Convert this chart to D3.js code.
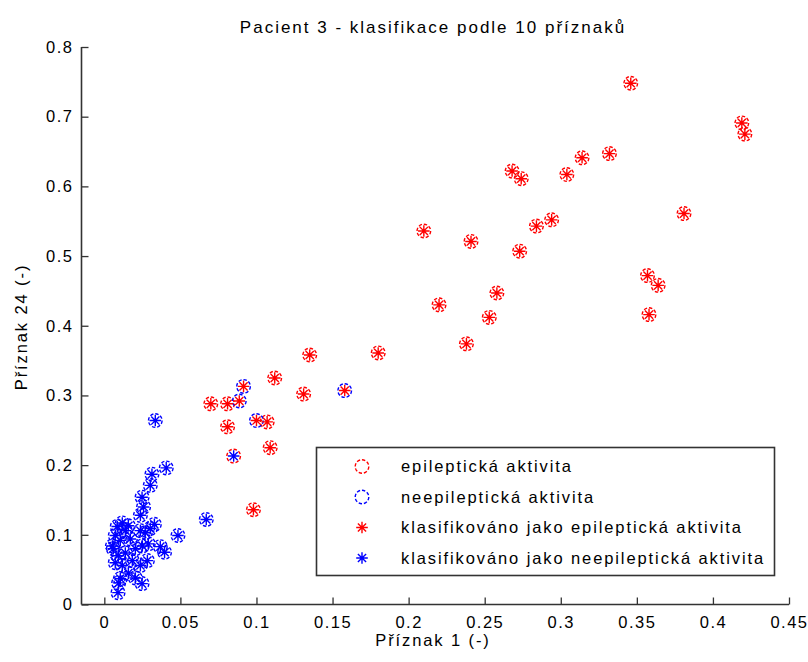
<!DOCTYPE html>
<html lang="cs">
<head>
<meta charset="UTF-8">
<title>Pacient 3 - klasifikace</title>
<style>
  body { margin: 0; background: #fff; }
  text { font-family: "Liberation Sans", Arial, sans-serif; font-size: 16.5px; letter-spacing: 1.9px; fill: #000; }
  .tick text { letter-spacing: 1.5px; }
  .title { font-size: 17px; letter-spacing: 2px; }
</style>
</head>
<body>
<svg id="chart" width="808" height="662"></svg>
<script src="https://d3js.org/d3.v7.min.js"></script>
<script>

// epileptic activity, classified as epileptic
var epiOkX = [0.135, 0.112, 0.131, 0.070, 0.081, 0.107, 0.081, 0.109, 0.098, 0.180,
              0.210, 0.241, 0.273, 0.284, 0.294, 0.258, 0.220, 0.253, 0.238, 0.346,
              0.419, 0.421, 0.332, 0.314, 0.304, 0.381, 0.357, 0.364, 0.358, 0.268, 0.274];
var epiOkY = [0.358, 0.325, 0.302, 0.288, 0.288, 0.262, 0.255, 0.225, 0.136, 0.361,
              0.536, 0.521, 0.507, 0.543, 0.552, 0.447, 0.430, 0.412, 0.374, 0.748,
              0.691, 0.675, 0.647, 0.641, 0.617, 0.561, 0.472, 0.458, 0.416, 0.622, 0.611];

// epileptic activity, classified as non-epileptic
var epiErrX = [0.085];
var epiErrY = [0.213];

// non-epileptic activity, classified as epileptic
var neErrX = [0.0915, 0.158, 0.0887, 0.100];
var neErrY = [0.313, 0.307, 0.292, 0.264];

// non-epileptic activity, classified as non-epileptic
var neOkX = [0.067, 0.0335, 0.0407, 0.0313, 0.0302, 0.0248, 0.0258, 0.0237, 0.0329, 0.0484,
             0.0368, 0.0396, 0.0248, 0.009, 0.0094,
             0.0085, 0.0118, 0.0158, 0.0072, 0.0105, 0.0171, 0.0237, 0.0269, 0.0059, 0.0092,
             0.0138, 0.0204, 0.025, 0.0289, 0.0072, 0.0118, 0.0184, 0.0237, 0.0283, 0.0158,
             0.0204, 0.0105, 0.0053, 0.0138, 0.0302];
var neOkY = [0.122, 0.264, 0.196, 0.187, 0.171, 0.154, 0.140, 0.128, 0.115, 0.099,
             0.083, 0.075, 0.030, 0.017, 0.031,
             0.112, 0.117, 0.113, 0.099, 0.092, 0.094, 0.106, 0.103, 0.080, 0.070,
             0.074, 0.080, 0.084, 0.087, 0.060, 0.056, 0.063, 0.056, 0.063, 0.045,
             0.038, 0.037, 0.084, 0.106, 0.109];

var xTicks = [0, 0.05, 0.1, 0.15, 0.2, 0.25, 0.3, 0.35, 0.4, 0.45];
var yTicks = [0, 0.1, 0.2, 0.3, 0.4, 0.5, 0.6, 0.7, 0.8];

var legendLabels = ["epileptická aktivita", "neepileptická aktivita",
                    "klasifikováno jako epileptická aktivita", "klasifikováno jako neepileptická aktivita"];

var RED = "#ff0000", BLUE = "#0000ff";

var svg = d3.select("#chart");

var x = d3.scaleLinear().domain([-0.015, 0.45]).range([81.5, 789]);
var y = d3.scaleLinear().domain([0, 0.8]).range([604.5, 47]);

function pts(xs, ys) {
  return xs.map(function (v, i) { return [v, ys[i]]; });
}

function drawCircles(g, data, colour) {
  g.selectAll(null).data(data).enter().append("circle")
    .attr("cx", function (d) { return x(d[0]); })
    .attr("cy", function (d) { return y(d[1]); })
    .attr("r", 6.8)
    .attr("fill", "none")
    .attr("stroke", colour)
    .attr("stroke-width", 1.4)
    .attr("stroke-dasharray", "3.4,1.9");
}

var starPath = (function () {
  var r = 5.8, c = r * Math.SQRT1_2;
  return "M" + (-r) + ",0L" + r + ",0M0," + (-r) + "L0," + r +
         "M" + (-c) + "," + (-c) + "L" + c + "," + c +
         "M" + (-c) + "," + c + "L" + c + "," + (-c);
})();

function drawStars(g, data, colour) {
  g.selectAll(null).data(data).enter().append("path")
    .attr("transform", function (d) { return "translate(" + x(d[0]) + "," + y(d[1]) + ")"; })
    .attr("d", starPath)
    .attr("fill", "none")
    .attr("stroke", colour)
    .attr("stroke-width", 1.4);
}

var marks = svg.append("g");
drawCircles(marks, pts(epiOkX, epiOkY).concat(pts(epiErrX, epiErrY)), RED);
drawCircles(marks, pts(neOkX, neOkY).concat(pts(neErrX, neErrY)), BLUE);
drawStars(marks, pts(epiOkX, epiOkY).concat(pts(neErrX, neErrY)), RED);
drawStars(marks, pts(neOkX, neOkY).concat(pts(epiErrX, epiErrY)), BLUE);

// axes (MATLAB style: ticks inward, no box)
var xAxis = svg.append("g").attr("transform", "translate(0,604.5)")
  .call(d3.axisBottom(x).tickValues(xTicks).tickSizeInner(-7).tickSizeOuter(0)
    .tickFormat(function (d) { return String(+d.toFixed(2)); }));
xAxis.select(".domain").attr("stroke", "#333").attr("stroke-width", 1.6)
  .attr("d", "M" + x.range()[0] + ",0H" + x.range()[1]);
xAxis.selectAll(".tick line").attr("stroke", "#333").attr("stroke-width", 1.3);
xAxis.selectAll(".tick text").attr("y", 12).attr("dy", "0.71em");

var yAxis = svg.append("g").attr("transform", "translate(81.5,0)")
  .call(d3.axisLeft(y).tickValues(yTicks).tickSizeInner(-7).tickSizeOuter(0)
    .tickFormat(function (d) { return String(+d.toFixed(1)); }));
yAxis.select(".domain").attr("stroke", "#333").attr("stroke-width", 1.6)
  .attr("d", "M0," + y.range()[0] + "V" + y.range()[1]);
yAxis.selectAll(".tick line").attr("stroke", "#333").attr("stroke-width", 1.3);
yAxis.selectAll(".tick text").attr("x", -8);
xAxis.attr("font-family", null).attr("font-size", null);
yAxis.attr("font-family", null).attr("font-size", null);

// titles
svg.append("text").attr("class", "title").attr("x", 433).attr("y", 33).attr("text-anchor", "middle")
  .text("Pacient 3 - klasifikace podle 10 příznaků");
svg.append("text").attr("x", 433).attr("y", 646).attr("text-anchor", "middle")
  .text("Příznak 1 (-)");
svg.append("text").attr("transform", "translate(27,327) rotate(-90)").attr("text-anchor", "middle")
  .text("Příznak 24 (-)");

// legend
var lg = svg.append("g");
lg.append("rect").attr("x", 316.5).attr("y", 447.5).attr("width", 458).attr("height", 128)
  .attr("fill", "#fff").attr("stroke", "#333").attr("stroke-width", 1.6);

var rowY = d3.scalePoint().domain(legendLabels).range([466.5, 558]);
var legendKinds = [["circle", RED], ["circle", BLUE], ["star", RED], ["star", BLUE]];

lg.selectAll(".entry").data(legendLabels).enter().append("g")
  .attr("class", "entry")
  .attr("transform", function (d) { return "translate(0," + rowY(d) + ")"; })
  .each(function (d, i) {
    var g = d3.select(this), k = legendKinds[i];
    if (k[0] === "circle") {
      g.append("circle").attr("cx", 362).attr("cy", 0).attr("r", 6.8)
        .attr("fill", "none").attr("stroke", k[1]).attr("stroke-width", 1.4)
        .attr("stroke-dasharray", "3.4,1.9");
    } else {
      g.append("path").attr("transform", "translate(362,0)").attr("d", starPath)
        .attr("fill", "none").attr("stroke", k[1]).attr("stroke-width", 1.4);
    }
    g.append("text").attr("x", 401).attr("y", 5.5).text(d);
  });

</script>
</body>
</html>
